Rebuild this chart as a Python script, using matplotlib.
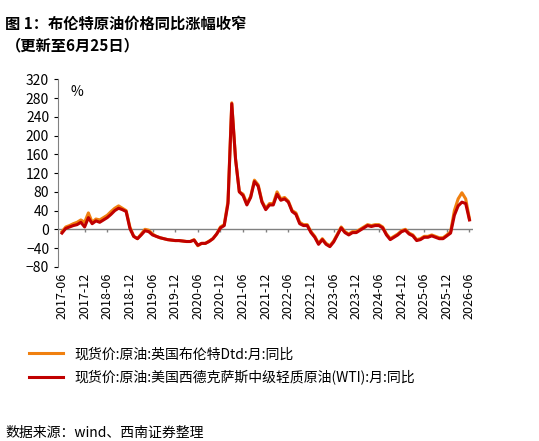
import matplotlib
matplotlib.use("Agg")
import matplotlib.pyplot as plt
import numpy as np
import pandas as pd

plt.rcParams['font.family'] = ['Noto Sans CJK SC', 'DejaVu Sans']

dates = pd.date_range("2017-06", "2026-06", freq="MS")
brent = [-5,5,8,12,15,20,15,
 35,15,22,20,25,30,38,45,50,45,40,5,
 -15,-20,-10,0,-2,-10,-15,-18,-20,-22,-23,-24,
 -24,-25,-26,-26,-22,-35,-30,-30,-25,-20,-10,5,
 10,60,270,150,80,75,55,70,105,95,60,45,
 55,55,80,65,68,60,40,35,15,10,10,-5,
 -15,-30,-20,-30,-35,-25,-10,5,-5,-10,-5,-5,
 0,5,10,8,10,10,5,-10,-20,-15,-10,-3,
 0,-8,-12,-22,-20,-15,-15,-12,-15,-18,-18,-12,
 -5,40,65,78,65,22]
wti = [-8,2,5,8,10,15,5,
 25,12,18,15,20,25,32,40,45,42,38,2,
 -15,-20,-12,-3,-5,-12,-15,-18,-20,-22,-23,-24,
 -24,-25,-26,-26,-23,-34,-30,-30,-26,-20,-10,3,
 8,55,268,150,80,72,52,68,102,92,58,42,
 52,52,75,62,65,58,38,32,12,8,8,-7,
 -17,-32,-22,-32,-37,-27,-12,3,-7,-12,-7,-7,
 -2,3,8,6,8,8,3,-12,-22,-17,-12,-5,
 -2,-10,-14,-24,-22,-17,-17,-14,-17,-20,-20,-14,
 -8,30,50,58,55,20]
n = min(len(dates), len(brent), len(wti))
dates = dates[:n]; brent = brent[:n]; wti = wti[:n]
x = np.arange(n)

fig = plt.figure(figsize=(5.39, 4.41), dpi=100)
ax = fig.add_axes([0.108, 0.395, 0.77, 0.425])
ax.plot(x, brent, color='#F08010', lw=2.2, label='现货价:原油:英国布伦特Dtd:月:同比')
ax.plot(x, wti, color='#C00000', lw=2.2, label='现货价:原油:美国西德克萨斯中级轻质原油(WTI):月:同比')
ax.set_ylim(-80, 320)
ax.set_yticks(range(-80, 321, 40))
ax.set_xlim(-1, n)
ticks = [i for i in range(n) if (dates[i].month in (6, 12))]
ax.set_xticks(ticks)
ax.set_xticklabels([dates[i].strftime('%Y-%m') for i in ticks], rotation=90, fontsize=9)
ax.tick_params(axis='y', labelsize=10, length=3)
ax.tick_params(axis='x', length=0, pad=4)
for s in ['top', 'right', 'bottom']:
    ax.spines[s].set_visible(False)
ax.spines['left'].set_color('#808080')
ax.axhline(0, color='#808080', lw=1, zorder=0)
ax.vlines(ticks, -6, 0, color='#808080', lw=1, zorder=0)
ax.text(0.03, 0.97, '%', transform=ax.transAxes, fontsize=10, va='top')
fig.legend(loc='lower left', bbox_to_anchor=(0.03, 0.1), frameon=False, fontsize=10,
           handlelength=2.5, labelspacing=0.6)
fig.text(0.01, 0.965, '图 1：布伦特原油价格同比涨幅收窄', fontsize=11, fontweight='bold', va='top')
fig.text(0.01, 0.915, '（更新至6月25日）', fontsize=11, fontweight='bold', va='top')
fig.text(0.01, 0.01, '数据来源：wind、西南证券整理', fontsize=10, style='italic')
fig.savefig('out.png', dpi=100)
